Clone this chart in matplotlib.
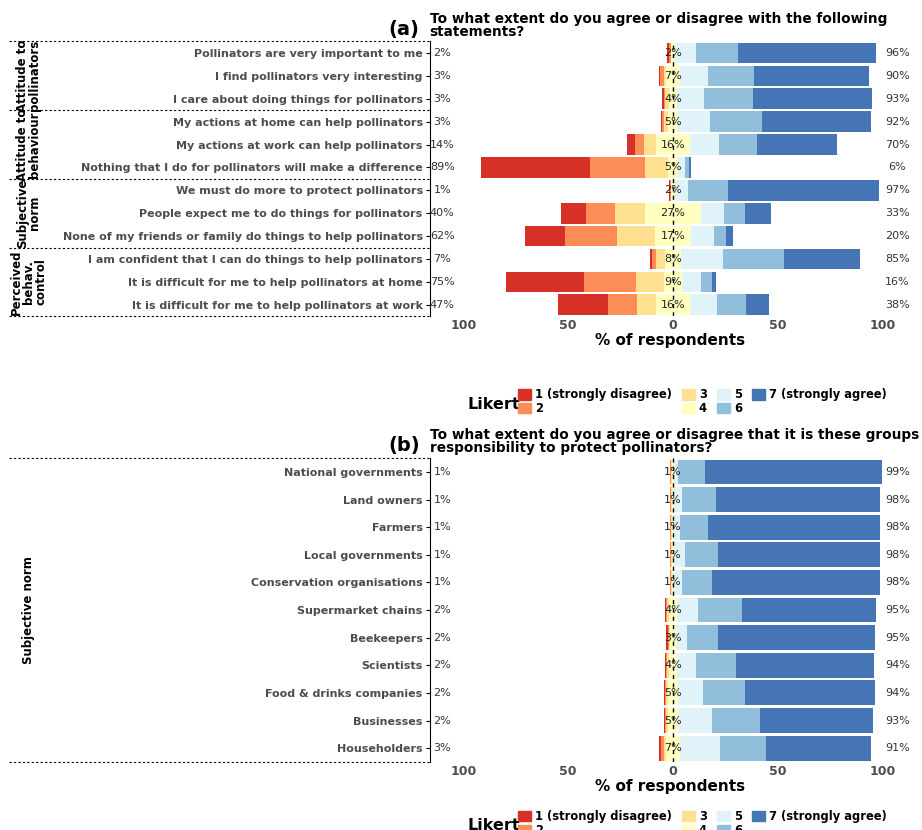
import numpy as np
import matplotlib.pyplot as plt
from matplotlib.patches import Patch
from matplotlib.lines import Line2D

# Likert responses 1..7 (% of respondents)
labels_a = ['Pollinators are very important to me',
            'I find pollinators very interesting',
            'I care about doing things for pollinators',
            'My actions at home can help pollinators',
            'My actions at work can help pollinators',
            'Nothing that I do for pollinators will make a difference',
            'We must do more to protect pollinators',
            'People expect me to do things for pollinators',
            'None of my friends or family do things to help pollinators',
            'I am confident that I can do things to help pollinators',
            'It is difficult for me to help pollinators at home',
            'It is difficult for me to help pollinators at work']
data_a = [[1, 1, 0, 2, 10, 20, 66],
          [0.5, 1.5, 1, 7, 13, 22, 55],
          [0.5, 0.5, 2, 4, 13, 23, 57],
          [0.5, 0.5, 2, 5, 15, 25, 52],
          [4, 4, 6, 16, 14, 18, 38],
          [52, 26, 11, 5, 3, 2, 1],
          [0.5, 0.5, 0, 2, 6, 19, 72],
          [12, 14, 14, 27, 11, 10, 12],
          [19, 25, 18, 17, 11, 6, 3],
          [1, 2, 4, 8, 20, 29, 36],
          [37, 25, 13, 9, 9, 5, 2],
          [24, 14, 9, 16, 13, 14, 11]]
neg_a = ['2%', '3%', '3%', '3%', '14%', '89%', '1%', '40%', '62%', '7%', '75%', '47%']
neu_a = ['2%', '7%', '4%', '5%', '16%', '5%', '2%', '27%', '17%', '8%', '9%', '16%']
pos_a = ['96%', '90%', '93%', '92%', '70%', '6%', '97%', '33%', '20%', '85%', '16%', '38%']
groups_a = [('Attitude to\npollinators', 3), ('Attitude to\nbehaviour', 3),
            ('Subjective\nnorm', 3), ('Perceived\nbehav.\ncontrol', 3)]

labels_b = ['National governments', 'Land owners', 'Farmers', 'Local governments',
            'Conservation organisations', 'Supermarket chains', 'Beekeepers', 'Scientists',
            'Food & drinks companies', 'Businesses', 'Householders']
data_b = [[0.3, 0.4, 0.3, 1, 2, 13, 84],
          [0.3, 0.4, 0.3, 1, 4, 16, 78],
          [0.3, 0.4, 0.3, 1, 3, 13, 82],
          [0.3, 0.4, 0.3, 1, 5, 16, 77],
          [0.3, 0.4, 0.3, 1, 4, 14, 80],
          [0.5, 0.5, 1, 4, 10, 21, 64],
          [1, 0.5, 0.5, 3, 5, 15, 75],
          [0.5, 0.5, 1, 4, 9, 19, 66],
          [0.5, 0.5, 1, 5, 12, 20, 62],
          [0.5, 0.5, 1, 5, 16, 23, 54],
          [1, 1, 1, 7, 19, 22, 50]]
neg_b = ['1%'] * 5 + ['2%'] * 5 + ['3%']
neu_b = ['1%'] * 5 + ['4%', '3%', '4%', '5%', '5%', '7%']
pos_b = ['99%', '98%', '98%', '98%', '98%', '95%', '95%', '94%', '94%', '93%', '91%']
groups_b = [('Subjective norm', 11)]

colors = ['#d73027', '#fc8d59', '#fee090', '#ffffbf', '#e0f3f8', '#91bfdb', '#4575b4']
likert = ['1 (strongly disagree)', '2', '3', '4', '5', '6', '7 (strongly agree)']
gray = '#4d4d4d'


def likert_panel(fig, rect, labels, data, neg, neu, pos, groups, tag, question):
    ax = fig.add_axes(rect)
    n = len(labels)
    y = np.arange(n)[::-1]
    d = np.array(data, dtype=float)
    for i in range(n):
        half = d[i, 3] / 2
        start = -(d[i, 0] + d[i, 1] + d[i, 2] + half)
        for k in range(7):
            ax.barh(y[i], d[i, k], left=start, height=0.9, color=colors[k], edgecolor='none')
            start += d[i, k]
        ax.text(-110, y[i], neg[i], ha='center', va='center', fontsize=8, color='#333333')
        ax.text(0, y[i], neu[i], ha='center', va='center', fontsize=8, color='#222222')
        ax.text(107, y[i], pos[i], ha='center', va='center', fontsize=8, color='#333333')
    ax.axvline(0, color='black', ls=(0, (3, 3)), lw=1)
    ax.set_xlim(-116, 113)
    ax.set_ylim(-0.5, n - 0.5)
    ax.set_yticks(y)
    ax.set_yticklabels(labels, fontsize=8.0, fontweight='bold', color=gray)
    ax.set_xticks([-100, -50, 0, 50, 100])
    ax.set_xticklabels(['100', '50', '0', '50', '100'], fontsize=9, fontweight='bold', color=gray)
    ax.set_xlabel('% of respondents', fontsize=11, fontweight='bold', labelpad=1)
    for s in ['top', 'right', 'bottom']:
        ax.spines[s].set_visible(False)
    ax.tick_params(axis='x', length=0, pad=2)
    ax.tick_params(axis='y', length=3, pad=2)
    # group separators and labels
    bounds = [n - 0.5]
    for name, cnt in groups:
        bounds.append(bounds[-1] - cnt)
    for b in bounds:
        ax.add_line(Line2D([-0.875, 0], [b, b], transform=ax.get_yaxis_transform(),
                           color='black', ls=(0, (2, 2)), lw=0.8, clip_on=False))
    for j, (name, cnt) in enumerate(groups):
        mid = (bounds[j] + bounds[j + 1]) / 2
        ax.text(-0.835, mid, name, transform=ax.get_yaxis_transform(), rotation=90,
                ha='center', va='center', fontsize=8.5, fontweight='bold', linespacing=0.9)
    ax.text(-0.085, 1.01, tag, transform=ax.transAxes, fontsize=14, fontweight='bold',
            ha='left', va='bottom')
    ax.text(0.0, 1.01, question, transform=ax.transAxes, fontsize=9.8, fontweight='bold',
            ha='left', va='bottom', linespacing=0.9)
    return ax


fig = plt.figure(figsize=(9.22, 8.3), dpi=100)
likert_panel(fig, [0.466, 0.619, 0.521, 0.331], labels_a, data_a, neg_a, neu_a, pos_a,
             groups_a, '(a)', 'To what extent do you agree or disagree with the following\nstatements?')
likert_panel(fig, [0.466, 0.082, 0.521, 0.366], labels_b, data_b, neg_b, neu_b, pos_b,
             groups_b, '(b)', 'To what extent do you agree or disagree that it is these groups\nresponsibility to protect pollinators?')

handles = [Patch(color=c) for c in colors]
for yl, ty in [(0.516, 0.513), (0.008, 0.005)]:
    leg = fig.legend(handles, likert, ncol=4, loc='center', bbox_to_anchor=(0.762, yl),
                     frameon=False, fontsize=8.3, handlelength=1.1, handleheight=1.0,
                     columnspacing=0.9, handletextpad=0.35, labelspacing=0.05, borderpad=0)
    for t in leg.get_texts():
        t.set_fontweight('bold')
    fig.text(0.507, ty, 'Likert', fontsize=11.5, fontweight='bold', ha='left', va='center')

fig.savefig('out.png', dpi=100)
